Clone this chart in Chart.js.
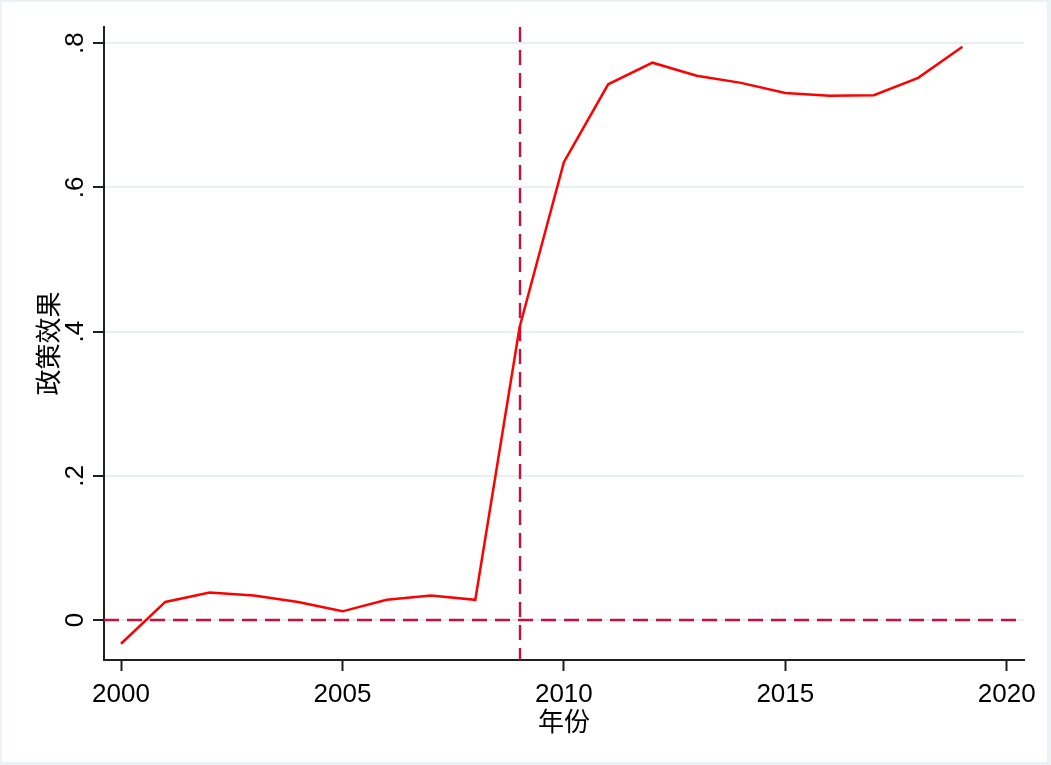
<!DOCTYPE html>
<html>
<head>
<meta charset="utf-8">
<script src="https://cdn.jsdelivr.net/npm/chart.js@4/dist/chart.umd.min.js"></script>
<style>
  html, body { margin: 0; padding: 0; background: #fff; }
  canvas { display: block; }
</style>
</head>
<body>
<canvas id="effectChart" width="1051" height="765"></canvas>
<script>
// data
const years = [2000, 2001, 2002, 2003, 2004, 2005, 2006, 2007, 2008, 2009,
               2010, 2011, 2012, 2013, 2014, 2015, 2016, 2017, 2018, 2019];
const effect = [-0.033, 0.025, 0.038, 0.034, 0.025, 0.012, 0.028, 0.034, 0.028, 0.406,
                0.635, 0.743, 0.773, 0.755, 0.745, 0.731, 0.727, 0.728, 0.752, 0.795];

const xTicks = [2000, 2005, 2010, 2015, 2020];
const yTicks = [0, 0.2, 0.4, 0.6, 0.8];
const yTickLabels = ["0", ".2", ".4", ".6", ".8"];

const policyYear = 2009;
const baseline = 0;

const xTitle = "年份";
const yTitle = "政策效果";

const latin = "'Liberation Sans', Arial, sans-serif";
const cjk = "'Noto Sans CJK SC', 'Noto Sans', sans-serif";
const axisColor = "#1f1f1f";
const gridColor = "#e6eff1";
const refColor = "#c8103f";

const stataDecor = {
    id: "stataDecor",
    beforeDraw(chart) {
        const ctx = chart.ctx;
        ctx.save();
        ctx.fillStyle = "#eaf2f3";
        ctx.fillRect(0, 0, chart.width, chart.height);
        ctx.fillStyle = "#fff";
        ctx.fillRect(2, 2, chart.width - 6, chart.height - 5);
        ctx.restore();
    },
    beforeDatasetsDraw(chart) {
        const ctx = chart.ctx;
        const area = chart.chartArea;
        const xs = chart.scales.x, ys = chart.scales.y;
        const px = Math.round(xs.getPixelForValue(policyYear));
        const py = Math.round(ys.getPixelForValue(baseline));
        ctx.save();
        ctx.strokeStyle = refColor;
        ctx.lineWidth = 2.4;
        ctx.setLineDash([15, 8]);
        ctx.beginPath();
        ctx.moveTo(area.left, py);
        ctx.lineTo(area.right, py);
        ctx.stroke();
        ctx.beginPath();
        ctx.moveTo(px, area.top);
        ctx.lineTo(px, area.bottom);
        ctx.stroke();
        ctx.restore();
    },
    afterDraw(chart) {
        const ctx = chart.ctx;
        const area = chart.chartArea;
        const ys = chart.scales.y;
        ctx.save();
        ctx.fillStyle = "#000";

        // rotated y tick labels, Stata style
        ctx.font = "26px " + latin;
        ctx.textAlign = "center";
        ctx.textBaseline = "alphabetic";
        yTicks.forEach((v, i) => {
            ctx.save();
            ctx.translate(83, ys.getPixelForValue(v));
            ctx.rotate(-Math.PI / 2);
            ctx.fillText(yTickLabels[i], 0, 0);
            ctx.restore();
        });

        // axis titles
        ctx.font = "26px " + cjk;
        ctx.textBaseline = "middle";
        ctx.save();
        ctx.translate(48, (area.top + area.bottom) / 2);
        ctx.rotate(-Math.PI / 2);
        ctx.fillText(yTitle, 0, 0);
        ctx.restore();
        ctx.fillText(xTitle, (area.left + area.right) / 2, 721);
        ctx.restore();
    }
};

new Chart(document.getElementById("effectChart").getContext("2d"), {
    type: "line",
    data: {
        datasets: [{
            label: yTitle,
            data: years.map((yr, i) => ({ x: yr, y: effect[i] })),
            borderColor: "#ff0000",
            borderWidth: 2.5,
            pointRadius: 0,
            tension: 0,
            fill: false
        }]
    },
    options: {
        responsive: false,
        animation: false,
        layout: { padding: { left: 0, top: 27, right: 27, bottom: 0 } },
        plugins: {
            legend: { display: false },
            tooltip: { enabled: false }
        },
        scales: {
            x: {
                type: "linear",
                min: 1999.616,
                max: 2020.39,
                afterBuildTicks: scale => { scale.ticks = xTicks.map(v => ({ value: v })); },
                afterFit: scale => { scale.height = 105; },
                grid: {
                    drawOnChartArea: false,
                    drawTicks: true,
                    tickLength: 11,
                    tickColor: axisColor,
                    tickWidth: 2
                },
                border: { display: true, color: axisColor, width: 2 },
                ticks: {
                    padding: 8,
                    color: "#000",
                    font: { family: latin, size: 26 },
                    maxRotation: 0,
                    callback: v => String(v)
                }
            },
            y: {
                type: "linear",
                min: -0.0555,
                max: 0.8225,
                afterBuildTicks: scale => { scale.ticks = yTicks.map(v => ({ value: v })); },
                afterFit: scale => { scale.width = 104; },
                grid: {
                    color: gridColor,
                    lineWidth: 2,
                    drawTicks: true,
                    tickLength: 11,
                    tickColor: axisColor,
                    tickWidth: 2
                },
                border: { display: true, color: axisColor, width: 2 },
                ticks: { display: false }
            }
        }
    },
    plugins: [stataDecor]
});
</script>
</body>
</html>
